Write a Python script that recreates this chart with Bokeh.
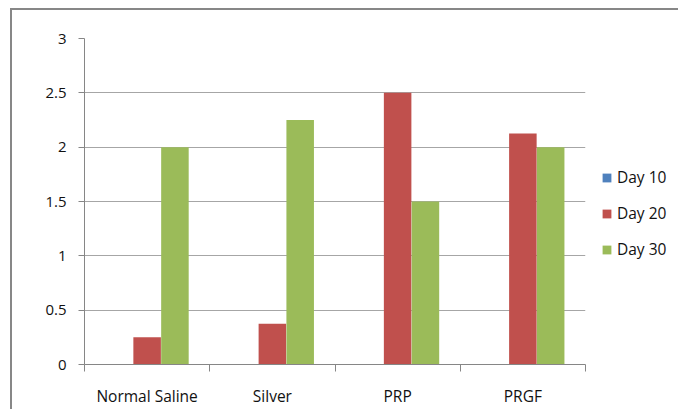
from bokeh.plotting import figure
from bokeh.models import ColumnDataSource, Range1d, FixedTicker, Legend, LegendItem
from bokeh.transform import dodge
from bokeh.embed import file_html
from bokeh.resources import INLINE

categories = ["Normal Saline", "Silver", "PRP", "PRGF"]
series_names = ["Day 10", "Day 20", "Day 30"]
day10 = [0, 0, 0, 0]
day20 = [0.25, 0.375, 2.5, 2.125]
day30 = [2.0, 2.25, 1.5, 2.0]
y_ticks = [0, 0.5, 1, 1.5, 2, 2.5, 3]
y_tick_labels = ["0", "0.5", "1", "1.5", "2", "2.5", "3"]

colors = ["#4F81BD", "#C0504D", "#9BBB59"]
FONT = "Open Sans"

centers = [i + 0.5 for i in range(len(categories))]
source = ColumnDataSource(dict(x=centers, day10=day10, day20=day20, day30=day30))

p = figure(frame_width=501, frame_height=326, output_backend="svg", toolbar_location=None,
           x_range=Range1d(0, len(categories)), y_range=Range1d(0, 3),
           min_border_left=72, min_border_right=93, min_border_top=28, min_border_bottom=40,
           styles={"margin-left": "10px", "margin-top": "8px",
                   "border-left": "2px solid #878787", "border-top": "2px solid #878787"})
p.outline_line_color = None
p.background_fill_color = "white"
p.border_fill_color = "white"

bw = 0.222
renderers = []
for k, (col, name) in enumerate(zip(["day10", "day20", "day30"], series_names)):
    r = p.vbar(x=dodge("x", (k - 1) * bw), top=col, width=bw * 0.99, bottom=0,
               source=source, fill_color=colors[k], line_color=None)
    renderers.append(r)

# x axis: labels at centers, ticks at boundaries
xt = FixedTicker(ticks=centers, minor_ticks=list(range(len(categories) + 1)))
p.xaxis.ticker = xt
p.xaxis.major_label_overrides = {c: lab for c, lab in zip(centers, categories)}
p.xaxis.major_tick_out = 0
p.xaxis.major_tick_in = 0
p.xaxis.minor_tick_out = 7
p.xaxis.minor_tick_in = 0
p.xaxis.minor_tick_line_color = "#868686"
p.xaxis.axis_line_color = "#868686"
p.xaxis.major_label_standoff = 13
p.xaxis.major_label_text_font = FONT
p.xaxis.major_label_text_font_size = "15.5px"
p.xaxis.major_label_text_color = "#111111"

p.yaxis.ticker = FixedTicker(ticks=y_ticks, minor_ticks=[])
p.yaxis.major_label_overrides = {t: lab for t, lab in zip(y_ticks, y_tick_labels)}
p.yaxis.major_tick_out = 6
p.yaxis.major_tick_in = 0
p.yaxis.major_tick_line_color = "#868686"
p.yaxis.axis_line_color = "#868686"
p.yaxis.major_label_standoff = 12
p.yaxis.major_label_text_font = FONT
p.yaxis.major_label_text_font_size = "15px"
p.yaxis.major_label_text_color = "#111111"

p.xgrid.grid_line_color = None
p.ygrid.ticker = FixedTicker(ticks=y_ticks)
p.ygrid.grid_line_color = "#a6a6a6"

legend = Legend(items=[LegendItem(label=n, renderers=[r]) for n, r in zip(series_names, renderers)],
                location=(16, 104), padding=0, margin=0, spacing=14,
                glyph_width=11, glyph_height=11, label_height=20, label_standoff=5,
                label_text_font=FONT, label_text_font_size="15.5px", label_text_color="#111111",
                border_line_color=None, background_fill_alpha=0)
p.add_layout(legend, "right")

open("out.html", "w").write(file_html(p, INLINE))
